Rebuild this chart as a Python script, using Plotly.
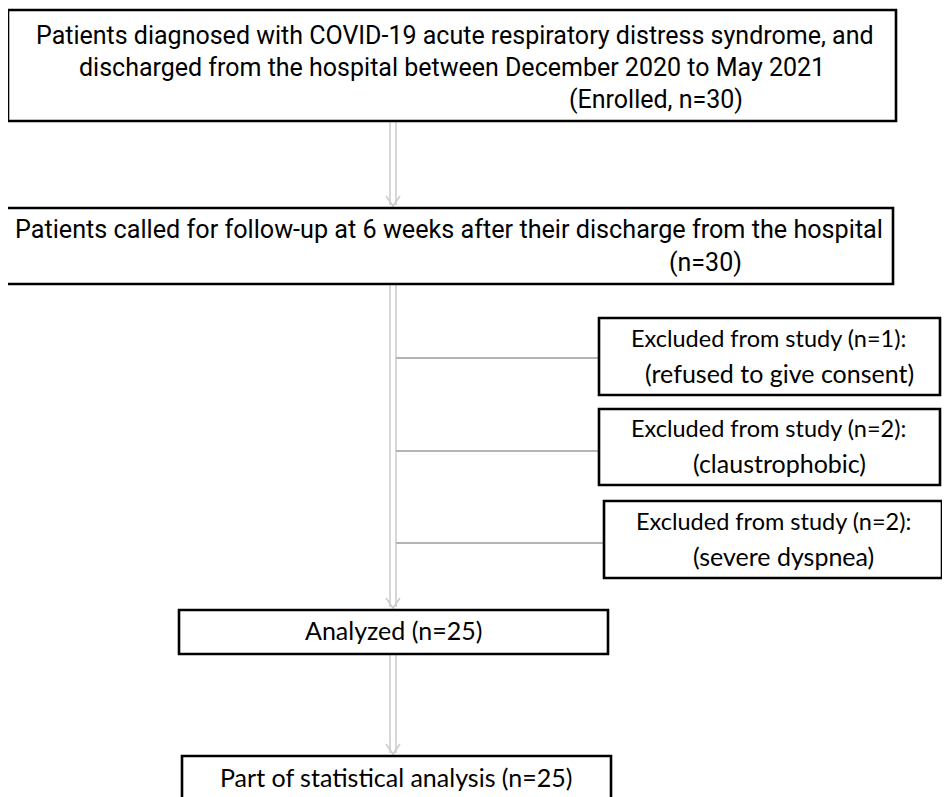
import plotly.graph_objects as go

# ---- data (texts of the flow chart) ----
main_lines_1 = [
    "Patients diagnosed with COVID-19 acute respiratory distress syndrome, and",
    "discharged from the hospital between December 2020 to May 2021",
]
main_line_2 = "Patients called for follow-up at 6 weeks after their discharge from the hospital"
main_counts = ["(Enrolled, n=30)", "(n=30)"]
analyzed_text = "Analyzed (n=25)"
final_text = "Part of statistical analysis (n=25)"
excluded_n = [1, 2, 2]
excluded_reason = ["refused to give consent", "claustrophobic", "severe dyspnea"]

# ---- layout geometry (pixels, y downward) ----
W, H = 950, 797
OFF = 8  # page body margin compensation
boxes_main = [(8, 10, 896, 121), (5, 208, 893, 284), (179, 610, 608, 654), (182, 756, 611, 815)]
boxes_excl = [(599, 318, 940, 395), (599, 409, 940, 485), (604, 501, 942, 578)]
branch_y = [358, 451, 543]
stem_x = 393

fig = go.Figure()
shapes = []
ann = []

GREY = "#cdcdcd"

def dbl_arrow(y0, y1, head=True):
    for dx in (-3, 3):
        shapes.append(dict(type="line", x0=stem_x + dx, x1=stem_x + dx, y0=y0, y1=y1 - (3 if head else 0),
                           line=dict(color=GREY, width=1.6), layer="below"))
    if head:
        shapes.append(dict(type="path",
                           path=f"M {stem_x-7} {y1-12} L {stem_x} {y1-2} L {stem_x+7} {y1-12}",
                           line=dict(color=GREY, width=1.6), layer="below"))

dbl_arrow(boxes_main[0][3] + 1, boxes_main[1][1])
dbl_arrow(boxes_main[1][3] + 1, boxes_main[2][1])
dbl_arrow(boxes_main[2][3] + 1, boxes_main[3][1])

for (bx, y) in zip(boxes_excl, branch_y):
    shapes.append(dict(type="line", x0=stem_x + 3, x1=bx[0], y0=y, y1=y,
                       line=dict(color="#b4b4b4", width=2), layer="below"))

for b in boxes_main + boxes_excl:
    shapes.append(dict(type="rect", x0=b[0], y0=b[1], x1=b[2], y1=b[3],
                       line=dict(color="black", width=2.6), fillcolor="white", layer="below"))

TOPF = "Roboto, sans-serif"
REG = "Lato, Open Sans, sans-serif"

def txt(x, y, s, size, fam, anchor="center"):
    ann.append(dict(x=x, y=y, text=s, showarrow=False, xref="x", yref="y",
                    xanchor=anchor, yanchor="middle",
                    font=dict(family=fam, size=size, color="black")))

txt(455, 35, main_lines_1[0], 25, TOPF)
txt(452, 67, main_lines_1[1], 25, TOPF)
txt(656, 99, main_counts[0], 25, TOPF)
txt(449, 229, main_line_2, 25.2, TOPF)
txt(705, 262, main_counts[1], 25, TOPF)

for b, n, r in zip(boxes_excl, excluded_n, excluded_reason):
    cx = (b[0] + b[2]) / 2 + 9
    cy = (b[1] + b[3]) / 2
    txt(b[0] + 30, cy - 19, f"Excluded from study (n={n}):", 23.5, REG, anchor="left")
    txt(cx + 1, cy + 16, f"({r})", 25, REG)

txt(393, 630, analyzed_text, 25, REG)
txt(396, 777, final_text, 25, REG)

fig.update_layout(
    width=W, height=H, margin=dict(l=0, r=0, t=0, b=0),
    paper_bgcolor="white", plot_bgcolor="white",
    xaxis=dict(range=[OFF, W + OFF], visible=False, fixedrange=True),
    yaxis=dict(range=[H + OFF, OFF], visible=False, fixedrange=True),
    shapes=shapes, annotations=ann, showlegend=False,
)
fig.write_html("out.html")
